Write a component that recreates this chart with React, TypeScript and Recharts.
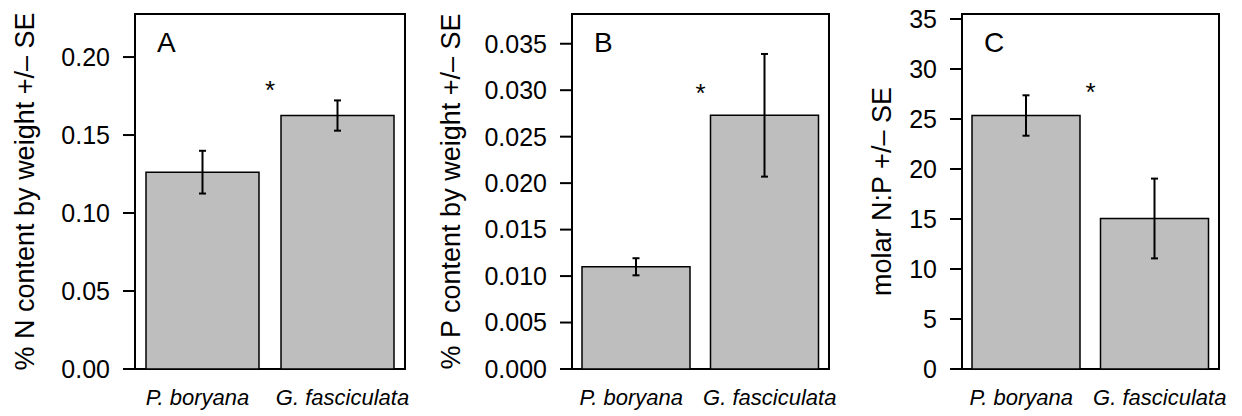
import { BarChart, Bar, XAxis, YAxis, ErrorBar, ReferenceArea } from 'recharts'

const species = ['P. boryana', 'G. fasciculata']

const nMean = [0.1262, 0.1625]
const nSE = [0.0137, 0.0097]
const nTicks = [0, 0.05, 0.1, 0.15, 0.2]

const pMean = [0.011, 0.0273]
const pSE = [0.00092, 0.0066]
const pTicks = [0, 0.005, 0.01, 0.015, 0.02, 0.025, 0.03, 0.035]

const npMean = [25.35, 15.05]
const npSE = [2.02, 3.99]
const npTicks = [0, 5, 10, 15, 20, 25, 30, 35]

const FONT = '"Liberation Sans", Arial, Helvetica, sans-serif'
const H = 416
const TOP = 14
const BOTTOM = 7
const XH = 40
// labels sit a little outward from the bar centres in the original
const labelShift = [-5, 5]

function SpeciesTick({ x, y, payload, index }: any) {
  return (
    <text
      x={x + labelShift[index]}
      y={y + 36}
      textAnchor="middle"
      fontSize={22}
      fontStyle="italic"
      fontFamily={FONT}
      fill="#000"
    >
      {payload.value}
    </text>
  )
}

type PanelProps = {
  left: number
  width: number
  yWidth: number
  right: number
  barSize: number
  mean: number[]
  se: number[]
  ticks: number[]
  max: number
  digits: number
  title: string
  titleX: number
  letter: string
  starY: number
}

function Panel(p: PanelProps) {
  const data = species.map((name, i) => ({ name, mean: p.mean[i], se: p.se[i] }))
  const plotW = p.width - p.yWidth - p.right
  return (
    <div style={{ position: 'absolute', left: p.left, top: 0, width: p.width, height: H }}>
      <BarChart width={p.width} height={H} data={data} margin={{ top: TOP, right: p.right, left: 0, bottom: BOTTOM }}>
        <XAxis dataKey="name" height={XH} axisLine={false} tickLine={false} tickSize={0} tickMargin={0} tick={<SpeciesTick />} />
        <YAxis
          type="number"
          width={p.yWidth}
          domain={[0, p.max]}
          ticks={p.ticks}
          interval={0}
          axisLine={false}
          tickSize={12}
          tickMargin={13}
          tickLine={{ stroke: '#000', strokeWidth: 2 }}
          tickFormatter={(v: number) => v.toFixed(p.digits)}
          tick={{ fontSize: 25, fill: '#000', fontFamily: FONT }}
          label={{
            value: p.title,
            angle: -90,
            position: 'insideLeft',
            offset: p.titleX,
            style: { textAnchor: 'middle', fontSize: 27, fill: '#000', fontFamily: FONT },
          }}
        />
        <Bar dataKey="mean" fill="#bebebe" stroke="#000" strokeWidth={1.5} barSize={p.barSize} isAnimationActive={false}>
          <ErrorBar dataKey="se" direction="y" width={3.5} stroke="#000" strokeWidth={2} isAnimationActive={false} />
        </Bar>
        <ReferenceArea y1={0} y2={p.max} fill="none" stroke="#000" strokeWidth={2} />
      </BarChart>
      <svg width={p.width} height={H} style={{ position: 'absolute', left: 0, top: 0, pointerEvents: 'none' }}>
        <text x={p.yWidth + 22} y={52} fontSize={28} fontFamily={FONT} fill="#000">
          {p.letter}
        </text>
        <text x={p.yWidth + plotW / 2} y={p.starY} fontSize={26} fontFamily={FONT} fill="#000" textAnchor="middle">
          *
        </text>
      </svg>
    </div>
  )
}

export default function App() {
  return (
    <div style={{ position: 'absolute', left: 0, top: 0, width: 1242, height: H, background: '#fff', fontFamily: FONT }}>
      <Panel
        left={0}
        width={420}
        yWidth={135}
        right={15}
        barSize={113}
        mean={nMean}
        se={nSE}
        ticks={nTicks}
        max={0.2276}
        digits={2}
        title="% N content by weight +/– SE"
        titleX={24}
        letter="A"
        starY={99}
      />
      <Panel
        left={420}
        width={420}
        yWidth={152}
        right={11}
        barSize={108}
        mean={pMean}
        se={pSE}
        ticks={pTicks}
        max={0.0382}
        digits={3}
        title="% P content by weight +/– SE"
        titleX={30}
        letter="B"
        starY={102}
      />
      <Panel
        left={840}
        width={402}
        yWidth={122}
        right={23}
        barSize={108}
        mean={npMean}
        se={npSE}
        ticks={npTicks}
        max={35.5}
        digits={0}
        title="molar N:P +/– SE"
        titleX={41}
        letter="C"
        starY={101}
      />
    </div>
  )
}
